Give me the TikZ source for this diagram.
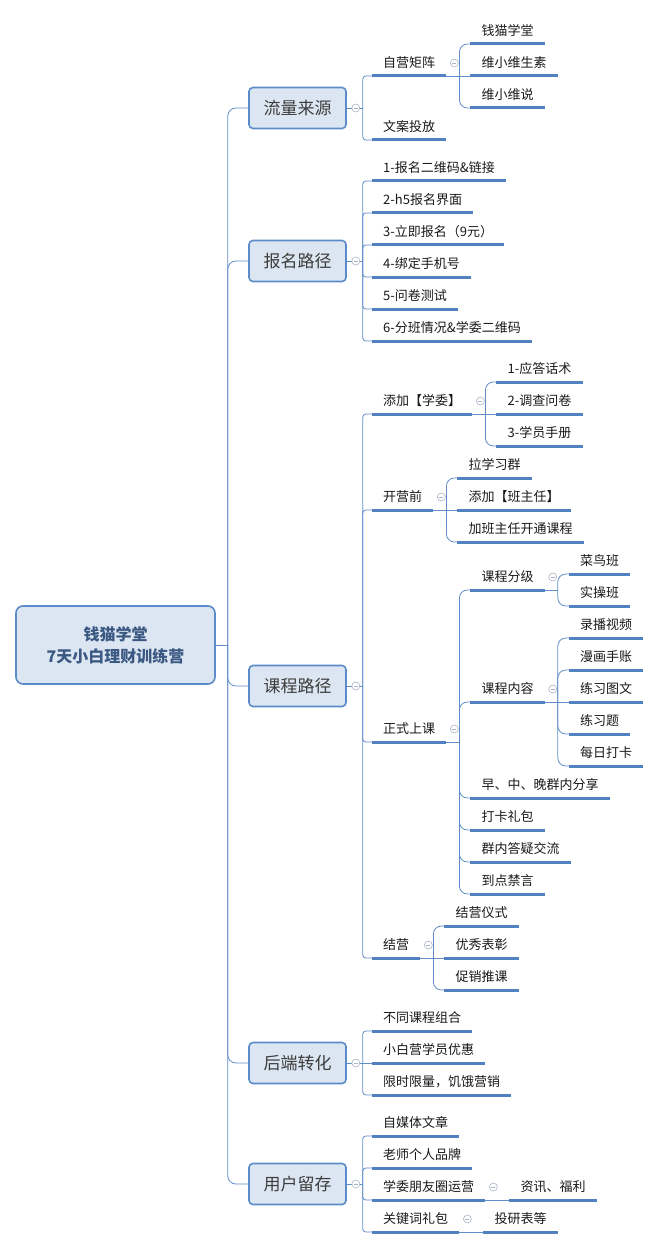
\documentclass[tikz,border=0pt]{standalone}
\usepackage{fontspec}
\setmainfont{Noto Sans CJK SC}
\usepackage{tikz}
\usetikzlibrary{calc, positioning}
\definecolor{lineblue}{RGB}{96,140,200}
\definecolor{ublue}{RGB}{81,129,192}
\definecolor{bfill}{RGB}{220,230,242}
\definecolor{bborder}{RGB}{91,139,200}
\definecolor{roottxt}{RGB}{58,88,130}
\definecolor{boxtxt}{RGB}{60,60,60}
\definecolor{txt}{RGB}{25,25,25}
\definecolor{fgray}{RGB}{170,180,198}
\tikzstyle{conn} = [draw=lineblue, line width=0.8pt]

\begin{document}
\begin{tikzpicture}[x=1pt, y=-1pt]
  % Define styles
  \tikzstyle{root} = [rectangle, rounded corners=7pt, minimum width=199pt, minimum height=78pt, align=center, draw=bborder, line width=1.6pt, fill=bfill, text=roottxt, font=\bfseries\fontsize{16}{22}\selectfont]
  \tikzstyle{branch} = [rectangle, rounded corners=4pt, minimum width=97pt, minimum height=41pt, text height=15pt, text depth=2pt, draw=bborder, line width=1.6pt, fill=bfill, text=boxtxt, font=\fontsize{17}{20}\selectfont]
  \tikzstyle{uline} = [draw=ublue, line width=3pt]
  \tikzstyle{topic} = [anchor=south west, inner xsep=11pt, inner ysep=5pt, text height=10pt, text depth=3pt, text=txt, font=\fontsize{13}{15}\selectfont, append after command={(\tikzlastnode.south west) edge[uline] (\tikzlastnode.south east)}]
  \tikzstyle{fold} = [circle, draw=fgray, fill=white, line width=0.6pt, minimum size=8pt, inner sep=0pt, path picture={\draw[fgray, line width=0.6pt] ([xshift=-2pt]path picture bounding box.center) -- ([xshift=2pt]path picture bounding box.center);}]
  \tikzset{topicbelow/.style={below=32pt of #1.south west, anchor=south west}}

  \useasboundingbox (0,0) rectangle (660,1249);

  % Place nodes
  \node [root] (root) at (115.5,645) {钱猫学堂\\7天小白理财训练营};
  \node [branch] (flow) at (297.5,108) {流量来源};
  \node [branch] (signup) at (297.5,261) {报名路径};
  \node [branch] (course) at (297.5,686) {课程路径};
  \node [branch] (convert) at (297.5,1063) {后端转化};
  \node [branch] (retain) at (297.5,1184) {用户留存};

  % traffic sources
  \node [topic] (selfown) at (372,76) {自营矩阵};
  \node [topic] (copyad) at (372,140) {文案投放};
  \node [topic] (qmxt) at ($(selfown.south east)+(24,-32)$) {钱猫学堂};
  \node [topic, topicbelow=qmxt] (wxwvit) {维小维生素};
  \node [topic, topicbelow=wxwvit] (wxwsay) {维小维说};

  % sign-up path
  \node [topic] (qrcode) at (372,181) {1-报名二维码\&链接};
  \node [topic, topicbelow=qrcode] (hfive) {2-h5报名界面};
  \node [topic, topicbelow=hfive] (enroll) {3-立即报名（9元）};
  \node [topic, topicbelow=enroll] (phone) {4-绑定手机号};
  \node [topic, topicbelow=phone] (survey) {5-问卷测试};
  \node [topic, topicbelow=survey] (classqr) {6-分班情况\&学委二维码};

  % course path
  \node [topic] (addrep) at (372,414) {添加【学委】};
  \node [topic] (answer) at ($(addrep.south east)+(24,-32)$) {1-应答话术};
  \node [topic, topicbelow=answer] (quest) {2-调查问卷};
  \node [topic, topicbelow=quest] (manual) {3-学员手册};
  \node [topic] (precamp) at (372,510) {开营前};
  \node [topic] (group) at ($(precamp.south east)+(24,-32)$) {拉学习群};
  \node [topic, topicbelow=group] (addhead) {添加【班主任】};
  \node [topic, topicbelow=addhead] (opencourse) {加班主任开通课程};
  \node [topic] (lesson) at (372,742) {正式上课};
  \node [topic] (level) at ($(lesson.south east)+(24,-152)$) {课程分级};
  \node [topic] (rookie) at ($(level.south east)+(24,-16)$) {菜鸟班};
  \node [topic, topicbelow=rookie] (practice) {实操班};
  \node [topic] (content) at ($(lesson.south east)+(24,-40)$) {课程内容};
  \node [topic] (video) at ($(content.south east)+(24,-64)$) {录播视频};
  \node [topic, topicbelow=video] (comic) {漫画手账};
  \node [topic, topicbelow=comic] (pictext) {练习图文};
  \node [topic, topicbelow=pictext] (exercise) {练习题};
  \node [topic, topicbelow=exercise] (checkin) {每日打卡};
  \node [topic] (share) at ($(lesson.south east)+(24,56)$) {早、中、晚群内分享};
  \node [topic, topicbelow=share] (gift) {打卡礼包};
  \node [topic, topicbelow=gift] (qa) {群内答疑交流};
  \node [topic, topicbelow=qa] (mute) {到点禁言};
  \node [topic] (closing) at (372,958) {结营};
  \node [topic] (ceremony) at ($(closing.south east)+(24,-32)$) {结营仪式};
  \node [topic, topicbelow=ceremony] (award) {优秀表彰};
  \node [topic, topicbelow=award] (promo) {促销推课};

  % back-end conversion
  \node [topic] (combo) at (372,1031) {不同课程组合};
  \node [topic, topicbelow=combo] (discount) {小白营学员优惠};
  \node [topic, topicbelow=discount] (hunger) {限时限量，饥饿营销};

  % user retention
  \node [topic] (media) at (372,1136) {自媒体文章};
  \node [topic, topicbelow=media] (brand) {老师个人品牌};
  \node [topic, topicbelow=brand] (moments) {学委朋友圈运营};
  \node [topic, topicbelow=moments] (keyword) {关键词礼包};
  \node [topic] (news) at ($(moments.south east)+(24,0)$) {资讯、福利};
  \node [topic] (report) at ($(keyword.south east)+(24,0)$) {投研表等};

  % Junctions
  \coordinate (trunk) at ($(root.east)+(12,0)$);
  \coordinate (flowj) at ($(flow.east)+(16,0)$);
  \coordinate (signupj) at ($(signup.east)+(16,0)$);
  \coordinate (coursej) at ($(course.east)+(16,0)$);
  \coordinate (convertj) at ($(convert.east)+(16,0)$);
  \coordinate (retainj) at ($(retain.east)+(16,0)$);
  \coordinate (selfownj) at ($(selfown.south east)+(13,0)$);
  \coordinate (addrepj) at ($(addrep.south east)+(13,0)$);
  \coordinate (precampj) at ($(precamp.south east)+(13,0)$);
  \coordinate (lessonj) at ($(lesson.south east)+(13,0)$);
  \coordinate (levelj) at ($(level.south east)+(13,0)$);
  \coordinate (contentj) at ($(content.south east)+(13,0)$);
  \coordinate (closingj) at ($(closing.south east)+(13,0)$);

  % Draw edges
  \path [conn] (root.east) -- (trunk);
  \path [conn, rounded corners=8pt] (trunk) |- (flow.west);
  \path [conn, rounded corners=8pt] (trunk) |- (signup.west);
  \path [conn, rounded corners=8pt] (trunk) |- (course.west);
  \path [conn, rounded corners=8pt] (trunk) |- (convert.west);
  \path [conn, rounded corners=8pt] (trunk) |- (retain.west);

  \path [conn] (flow.east) -- (flowj);
  \path [conn, rounded corners=3pt] (flowj) |- (selfown.south west);
  \path [conn, rounded corners=3pt] (flowj) |- (copyad.south west);
  \path [conn] (selfown.south east) -- (selfownj);
  \path [conn, rounded corners=8pt] (selfownj) |- (qmxt.south west);
  \path [conn] (selfownj) -- (wxwvit.south west);
  \path [conn, rounded corners=8pt] (selfownj) |- (wxwsay.south west);

  \path [conn] (signup.east) -- (signupj);
  \path [conn, rounded corners=3pt] (signupj) |- (qrcode.south west);
  \path [conn, rounded corners=3pt] (signupj) |- (hfive.south west);
  \path [conn, rounded corners=3pt] (signupj) |- (enroll.south west);
  \path [conn, rounded corners=3pt] (signupj) |- (phone.south west);
  \path [conn, rounded corners=3pt] (signupj) |- (survey.south west);
  \path [conn, rounded corners=3pt] (signupj) |- (classqr.south west);

  \path [conn] (course.east) -- (coursej);
  \path [conn, rounded corners=3pt] (coursej) |- (addrep.south west);
  \path [conn, rounded corners=3pt] (coursej) |- (precamp.south west);
  \path [conn, rounded corners=3pt] (coursej) |- (lesson.south west);
  \path [conn, rounded corners=3pt] (coursej) |- (closing.south west);
  \path [conn] (addrep.south east) -- (addrepj);
  \path [conn, rounded corners=8pt] (addrepj) |- (answer.south west);
  \path [conn] (addrepj) -- (quest.south west);
  \path [conn, rounded corners=8pt] (addrepj) |- (manual.south west);
  \path [conn] (precamp.south east) -- (precampj);
  \path [conn, rounded corners=8pt] (precampj) |- (group.south west);
  \path [conn] (precampj) -- (addhead.south west);
  \path [conn, rounded corners=8pt] (precampj) |- (opencourse.south west);
  \path [conn] (lesson.south east) -- (lessonj);
  \path [conn, rounded corners=8pt] (lessonj) |- (level.south west);
  \path [conn, rounded corners=8pt] (lessonj) |- (content.south west);
  \path [conn, rounded corners=8pt] (lessonj) |- (share.south west);
  \path [conn, rounded corners=8pt] (lessonj) |- (gift.south west);
  \path [conn, rounded corners=8pt] (lessonj) |- (qa.south west);
  \path [conn, rounded corners=8pt] (lessonj) |- (mute.south west);
  \path [conn] (level.south east) -- (levelj);
  \path [conn, rounded corners=8pt] (levelj) |- (rookie.south west);
  \path [conn, rounded corners=8pt] (levelj) |- (practice.south west);
  \path [conn] (content.south east) -- (contentj);
  \path [conn, rounded corners=8pt] (contentj) |- (video.south west);
  \path [conn, rounded corners=8pt] (contentj) |- (comic.south west);
  \path [conn] (contentj) -- (pictext.south west);
  \path [conn, rounded corners=8pt] (contentj) |- (exercise.south west);
  \path [conn, rounded corners=8pt] (contentj) |- (checkin.south west);
  \path [conn] (closing.south east) -- (closingj);
  \path [conn, rounded corners=8pt] (closingj) |- (ceremony.south west);
  \path [conn] (closingj) -- (award.south west);
  \path [conn, rounded corners=8pt] (closingj) |- (promo.south west);

  \path [conn] (convert.east) -- (convertj);
  \path [conn, rounded corners=3pt] (convertj) |- (combo.south west);
  \path [conn] (convertj) -- (discount.south west);
  \path [conn, rounded corners=3pt] (convertj) |- (hunger.south west);

  \path [conn] (retain.east) -- (retainj);
  \path [conn, rounded corners=3pt] (retainj) |- (media.south west);
  \path [conn, rounded corners=3pt] (retainj) |- (brand.south west);
  \path [conn, rounded corners=3pt] (retainj) |- (moments.south west);
  \path [conn, rounded corners=3pt] (retainj) |- (keyword.south west);
  \path [conn] (moments.south east) -- (news.south west);
  \path [conn] (keyword.south east) -- (report.south west);

  % Fold markers
  \node [fold] (flowf) at ($(flow.east)+(9,0)$) {};
  \node [fold] (signupf) at ($(signup.east)+(9,0)$) {};
  \node [fold] (coursef) at ($(course.east)+(9,0)$) {};
  \node [fold] (convertf) at ($(convert.east)+(9,0)$) {};
  \node [fold] (retainf) at ($(retain.east)+(9,0)$) {};
  \node [fold] (selfownf) at ($(selfown.south east)+(8,-13)$) {};
  \node [fold] (addrepf) at ($(addrep.south east)+(8,-13)$) {};
  \node [fold] (precampf) at ($(precamp.south east)+(8,-13)$) {};
  \node [fold] (lessonf) at ($(lesson.south east)+(8,-13)$) {};
  \node [fold] (levelf) at ($(level.south east)+(8,-13)$) {};
  \node [fold] (contentf) at ($(content.south east)+(8,-13)$) {};
  \node [fold] (closingf) at ($(closing.south east)+(8,-13)$) {};
  \node [fold] (momentsf) at ($(moments.south east)+(8,-13)$) {};
  \node [fold] (keywordf) at ($(keyword.south east)+(8,-13)$) {};
\end{tikzpicture}
\end{document}
